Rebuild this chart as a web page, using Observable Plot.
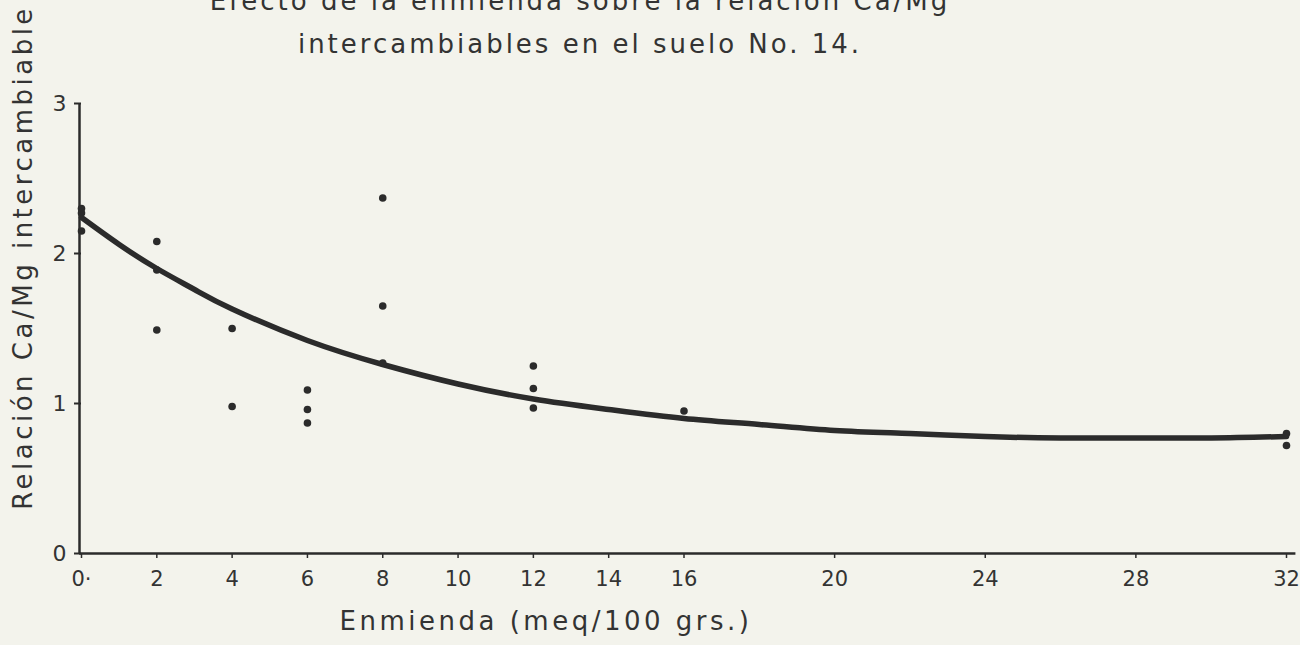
<!DOCTYPE html>
<html><head><meta charset="utf-8">
<script src="https://cdn.jsdelivr.net/npm/d3@7"></script>
<script src="https://cdn.jsdelivr.net/npm/@observablehq/plot@0.6"></script>
<style>
html,body{margin:0;padding:0;background:#f3f3ec;overflow:hidden}
#wrap{position:relative;width:1300px;height:645px;background:#f3f3ec}
.t{position:absolute;left:0;width:1160px;text-align:center;font-family:"DejaVu Sans";font-size:26px;letter-spacing:3px;color:#333;white-space:nowrap}
</style></head><body>
<div id="wrap">
<div id="chart"></div>
<div class="t" style="top:-14px">Efecto de la enmienda sobre la relación Ca/Mg</div>
<div class="t" style="top:29px">intercambiables en el suelo No. 14.</div>
</div>
<script>
// observed points
const enmienda = [0, 0, 0, 2, 2, 2, 4, 4, 6, 6, 6, 8, 8, 8, 12, 12, 12, 16, 32, 32];
const relacion = [2.30, 2.27, 2.15, 2.08, 1.89, 1.49, 1.50, 0.98, 1.09, 0.96, 0.87, 2.37, 1.65, 1.27, 1.25, 1.10, 0.97, 0.95, 0.80, 0.72];
// fitted curve
const curvaX = [0, 1, 2, 3, 4, 6, 8, 10, 12, 14, 16, 18, 20, 22, 24, 26, 28, 30, 32];
const curvaY = [2.24, 2.06, 1.90, 1.76, 1.63, 1.42, 1.26, 1.13, 1.03, 0.96, 0.90, 0.86, 0.82, 0.80, 0.78, 0.77, 0.77, 0.77, 0.78];
// axes
const xTicks = [0, 2, 4, 6, 8, 10, 12, 14, 16, 20, 24, 28, 32];
const xTickLabels = ["0·", "2", "4", "6", "8", "10", "12", "14", "16", "20", "24", "28", "32"];
const yTicks = [0, 1, 2, 3];
const yTickLabels = ["0", "1", "2", "3"];
const xLabel = "Enmienda (meq/100 grs.)";
const yLabel = "Relación Ca/Mg intercambiable";

const puntos = enmienda.map((x, i) => ({x, y: relacion[i]}));
const curva = curvaX.map((x, i) => ({x, y: curvaY[i]}));
const ink = "#2b2b2b";

const chart = Plot.plot({
  width: 1300,
  height: 645,
  marginLeft: 81,
  marginRight: 14,
  marginTop: 103,
  marginBottom: 92,
  style: {background: "transparent", fontFamily: "DejaVu Sans", fontSize: "22px", color: "#333"},
  x: {domain: [0, 32]},
  y: {domain: [0, 3]},
  marks: [
    Plot.axisX(xTicks, {tickSize: 5, tickPadding: 13, fontSize: 21, label: null,
      tickFormat: d => xTickLabels[xTicks.indexOf(d)], stroke: ink, strokeWidth: 1.5}),
    Plot.axisY(yTicks, {tickSize: 7, tickPadding: 8, fontSize: 22, label: null,
      tickFormat: d => yTickLabels[yTicks.indexOf(d)], stroke: ink, strokeWidth: 2}),
    Plot.ruleX([0], {y1: 0, y2: 3.0, stroke: ink, strokeWidth: 2.5, dx: -2}),
    Plot.ruleY([0], {x1: -0.05, x2: 32.25, stroke: ink, strokeWidth: 2.5}),
    Plot.line(curva, {x: "x", y: "y", curve: "natural", stroke: ink, strokeWidth: 5.5}),
    Plot.dot(puntos, {x: "x", y: "y", r: 3.8, fill: ink, stroke: "none"}),
    Plot.text([yLabel], {frameAnchor: "left", textAnchor: "middle", dx: -58, dy: -71, rotate: -90, fontSize: 26, fill: "#333"}),
    Plot.text([xLabel], {frameAnchor: "bottom", textAnchor: "middle", dx: -138, dy: 76, fontSize: 26, fill: "#333"})
  ]
});
d3.select(chart).selectAll("text")
  .filter(function() { return this.textContent === xLabel || this.textContent === yLabel; })
  .style("letter-spacing", "3.5px");
document.getElementById("chart").appendChild(chart);
</script>
</body></html>
